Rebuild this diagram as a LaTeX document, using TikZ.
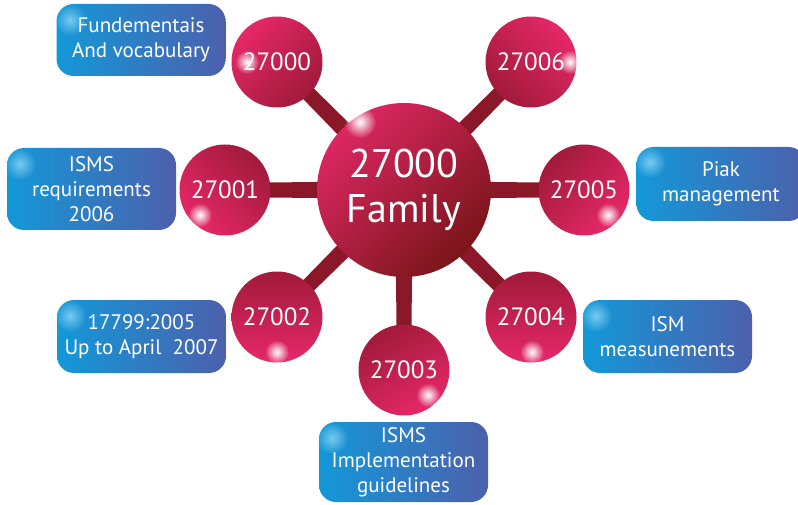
\documentclass[tikz,border=0pt]{standalone}
\usepackage{fontspec}
\setmainfont{PT Sans}
\usetikzlibrary{fadings,calc,backgrounds}
\tikzfading[name=spotfade, inner color=transparent!0, outer color=transparent!100]
\definecolor{pinkb}{HTML}{E62868}
\definecolor{darkb}{HTML}{A11A3A}
\definecolor{hubpink}{HTML}{DC2763}
\definecolor{hubmid}{HTML}{9E1A33}
\definecolor{hubdark}{HTML}{7A1519}
\definecolor{barc}{HTML}{8A1828}
\definecolor{boxl}{HTML}{1398D8}
\definecolor{boxr}{HTML}{4C60AC}
\definecolor{boxhi}{HTML}{8FD8F6}
\newcommand\spoke[2]{\fill[barc] ($(#1.center)!9pt!90:(#2.center)$) -- ($(#2.center)!7pt!-90:(#1.center)$) -- ($(#2.center)!7pt!90:(#1.center)$) -- ($(#1.center)!9pt!-90:(#2.center)$) -- cycle;}
\begin{document}
\begin{tikzpicture}[x=1pt,y=1pt,
  sat/.style={circle, minimum size=91pt, inner sep=0pt, top color=pinkb, bottom color=darkb, text=white, font=\fontsize{25}{30}\selectfont},
  hub/.style={circle, minimum size=174pt, inner sep=0pt, top color=hubpink, middle color=hubmid, bottom color=hubdark, shading angle=45, text=white, align=center, font=\fontsize{40}{47}\selectfont},
  info/.style={rounded corners=17pt, left color=boxl, right color=boxr, text=white, align=center, font=\fontsize{21}{25}\selectfont, minimum width=169pt, inner sep=0pt},
  spot/.style={fill=white, path fading=spotfade},
  boxspot/.style={fill=boxhi, path fading=spotfade, opacity=0.8}]
\useasboundingbox (0,0) rectangle (798,-505);
% hub
\node[hub] (c) at (404,-190) {27000\\[-2pt]Family};
% satellites
\node[sat, shading angle=45]  (s0) at (277,-62)  {27000};
\node[sat, shading angle=-45] (s6) at (531,-62)  {27006};
\node[sat, shading angle=135] (s1) at (225,-190) {27001};
\node[sat, shading angle=225] (s5) at (584,-190) {27005};
\node[sat, shading angle=180] (s2) at (277,-317) {27002};
\node[sat, shading angle=180] (s4) at (531,-317) {27004};
\node[sat, shading angle=210] (s3) at (404,-370) {27003};
% spokes
\begin{pgfonlayer}{background}
\spoke{c}{s0}\spoke{c}{s6}\spoke{c}{s1}\spoke{c}{s5}\spoke{c}{s2}\spoke{c}{s4}\spoke{c}{s3}
\end{pgfonlayer}
% highlights on balls
\fill[spot] (360,-122) circle (16);
\fill[spot] (247,-62) circle (12);
\fill[spot] (570,-62) circle (12);
\fill[spot] (200,-215) circle (12);
\fill[spot] (608,-215) circle (12);
\fill[spot] (277,-352) circle (12);
\fill[spot] (532,-352) circle (12);
\fill[spot] (428,-395) circle (12);
% info boxes
\node[info, minimum height=72pt] (b0) at (141,-40) {Fundementais\\And vocabulary};
\node[info, minimum height=82pt] (b1) at (91.5,-189) {ISMS\\requirements\\2006};
\node[info, minimum height=74pt] (b5) at (721,-184) {Piak\\management};
\node[info, minimum height=73pt] (b2) at (141.5,-336.5) {17799:2005\\Up to April~ 2007};
\node[info, minimum height=73pt] (b4) at (667.5,-336.5) {ISM\\measunements};
\node[info, minimum height=80pt] (b3) at (403.5,-462) {ISMS\\Implementation\\guidelines};
% box highlights
\fill[boxspot] (70,-20) circle (16);
\fill[boxspot] (20,-164) circle (16);
\fill[boxspot] (650,-162) circle (16);
\fill[boxspot] (70,-316) circle (16);
\fill[boxspot] (596,-316) circle (16);
\fill[boxspot] (332,-438) circle (16);
\end{tikzpicture}
\end{document}
